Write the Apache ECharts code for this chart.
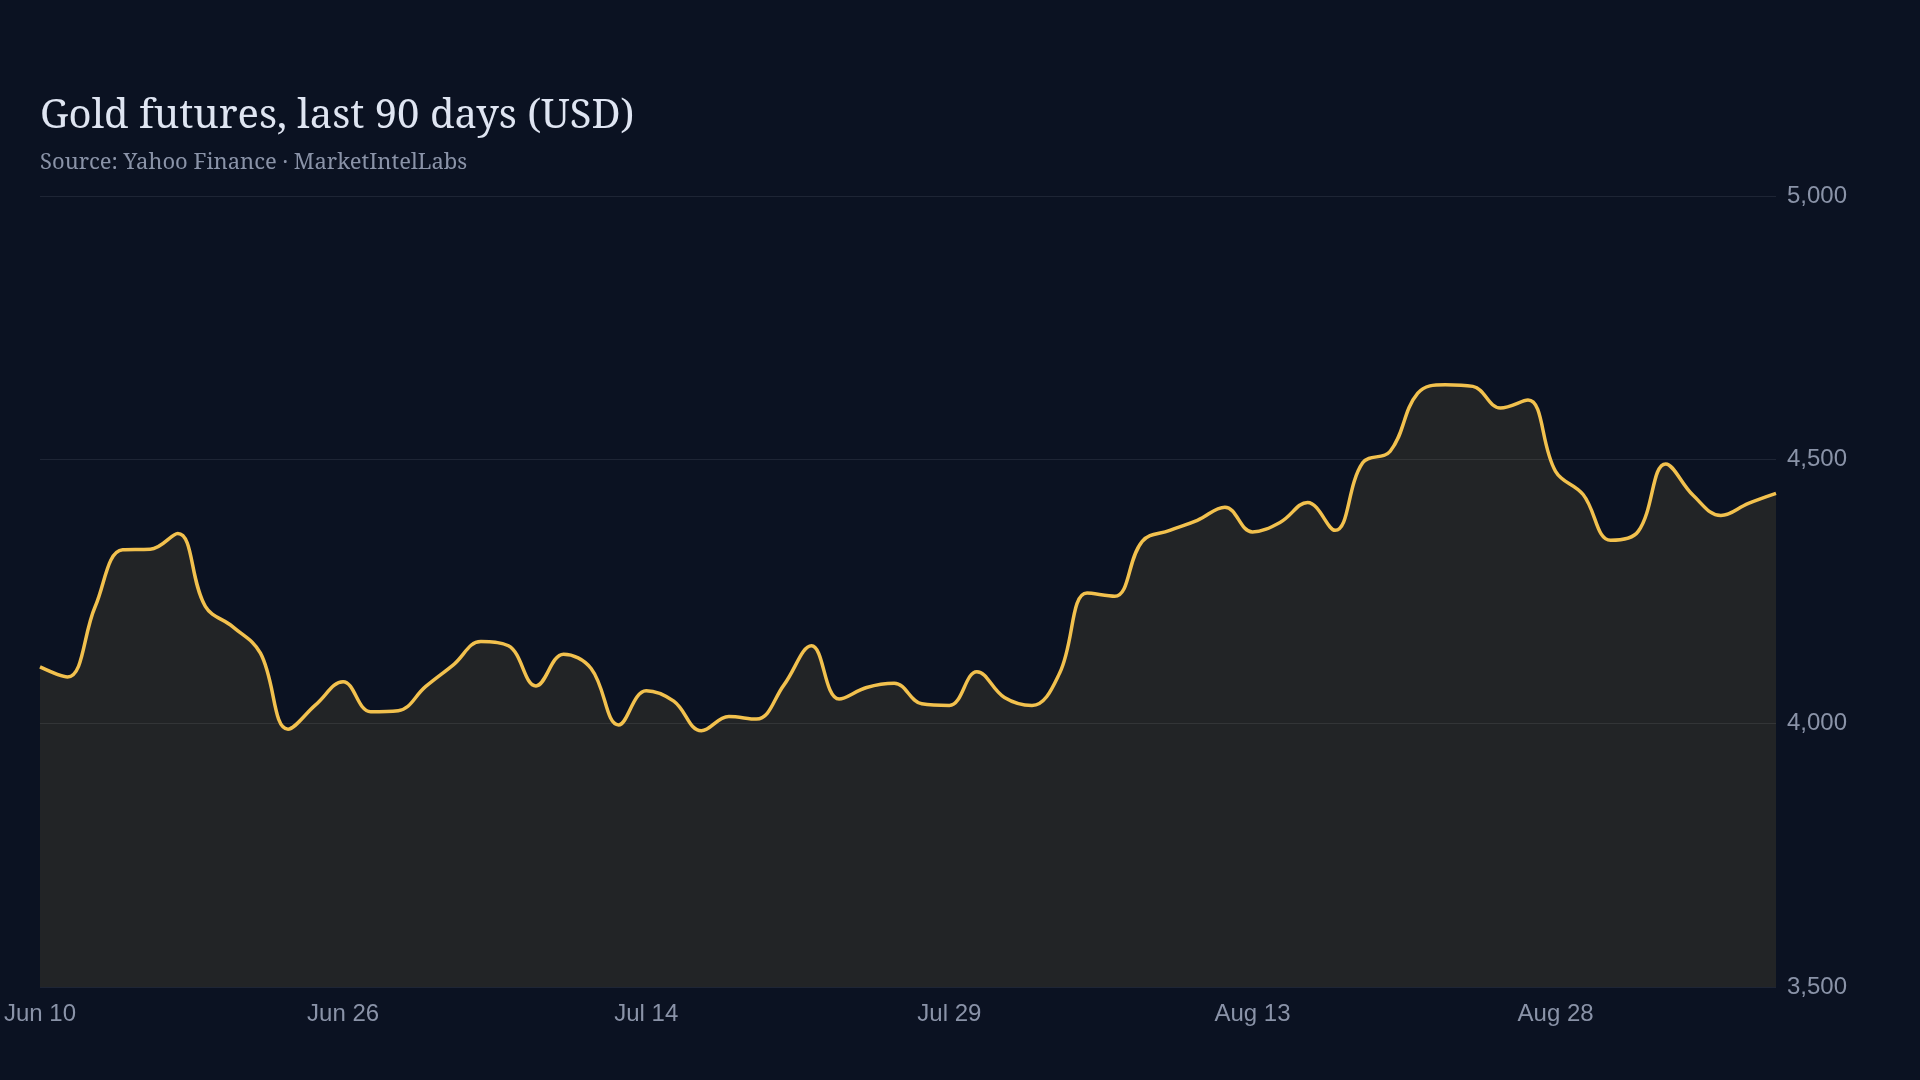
<!DOCTYPE html>
<html>
<head>
<meta charset="utf-8">
<title>Gold futures, last 90 days</title>
<script src="https://cdn.jsdelivr.net/npm/echarts@6/dist/echarts.min.js"></script>
<style>
  html, body { margin: 0; padding: 0; background: #0b1222; }
  #chart { width: 1920px; height: 1080px; }
</style>
</head>
<body>
<div id="chart"></div>
<script>
// trading days, Jun 10 -> Sep 10
var days = [
  'Jun 10','Jun 11','Jun 12','Jun 13','Jun 16','Jun 17','Jun 18','Jun 20','Jun 23','Jun 24',
  'Jun 25','Jun 26','Jun 27','Jun 30','Jul 1','Jul 2','Jul 3','Jul 7','Jul 8','Jul 9',
  'Jul 10','Jul 11','Jul 14','Jul 15','Jul 16','Jul 17','Jul 18','Jul 21','Jul 22','Jul 23',
  'Jul 24','Jul 25','Jul 28','Jul 29','Jul 30','Jul 31','Aug 1','Aug 4','Aug 5','Aug 6',
  'Aug 7','Aug 8','Aug 11','Aug 12','Aug 13','Aug 14','Aug 15','Aug 18','Aug 19','Aug 20',
  'Aug 21','Aug 22','Aug 25','Aug 26','Aug 27','Aug 28','Aug 29','Sep 2','Sep 3','Sep 4',
  'Sep 5','Sep 8','Sep 9','Sep 10'
];

// closing price, USD
var closes = [
  4107, 4088, 4221, 4329, 4330, 4360, 4222, 4183, 4133, 3989,
  4035, 4079, 4022, 4024, 4070, 4111, 4155, 4147, 4071, 4131,
  4104, 3997, 4062, 4042, 3986, 4013, 4008, 4073, 4147, 4046,
  4068, 4076, 4037, 4034, 4098, 4049, 4034, 4095, 4247, 4241,
  4345, 4366, 4385, 4410, 4363, 4381, 4419, 4366, 4494, 4516,
  4626, 4642, 4639, 4598, 4613, 4478, 4434, 4347, 4364, 4492,
  4432, 4394, 4417, 4436
];

var yTicks = [3500, 4000, 4500, 5000];

var chart = echarts.init(document.getElementById('chart'));

var option = {
  backgroundColor: '#0b1222',
  title: [
    {
      text: 'Gold futures, last 90 days (USD)',
      left: 40,
      top: 97,
      padding: 0,
      textStyle: { fontFamily: 'Noto Serif, DejaVu Serif, serif', fontSize: 40, fontWeight: 'normal', color: '#dfe5f2' }
    },
    {
      text: 'Source: Yahoo Finance · MarketIntelLabs',
      left: 40,
      top: 152,
      padding: 0,
      textStyle: { fontFamily: 'Noto Serif, DejaVu Serif, serif', fontSize: 22, fontWeight: 'normal', color: '#8a93a8' }
    }
  ],
  grid: { left: 40, right: 144, top: 196, bottom: 93 },
  xAxis: {
    type: 'category',
    data: days,
    boundaryGap: false,
    axisLine: { show: false },
    axisTick: { show: false },
    axisLabel: {
      interval: 10,
      margin: 15,
      color: '#8a93a8',
      fontSize: 24,
      fontFamily: 'Liberation Sans, Arial, sans-serif'
    },
    splitLine: { show: false }
  },
  yAxis: {
    type: 'value',
    position: 'right',
    min: yTicks[0],
    max: yTicks[yTicks.length - 1],
    interval: 500,
    axisLine: { show: false },
    axisTick: { show: false },
    axisLabel: {
      margin: 11,
      padding: [8, 0, 0, 0],
      color: '#8a93a8',
      fontSize: 24,
      fontFamily: 'Liberation Sans, Arial, sans-serif'
    },
    splitLine: { lineStyle: { color: '#1e2535', width: 1 } }
  },
  series: [{
    type: 'line',
    data: closes,
    smooth: 0.4,
    symbol: 'none',
    lineStyle: { color: '#f2c14e', width: 3.5 },
    areaStyle: { color: '#f2c14e', opacity: 0.1 }
  }],
  animation: false
};

chart.setOption(option);
</script>
</body>
</html>
